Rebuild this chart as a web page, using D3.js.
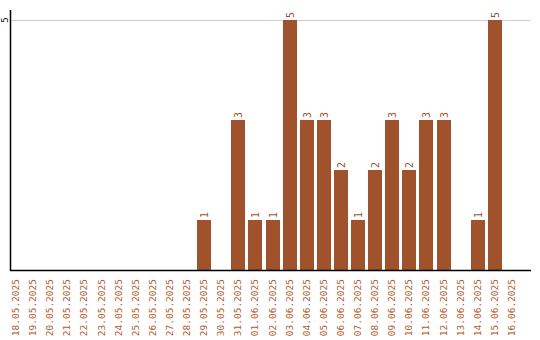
<!DOCTYPE html>
<html>
<head>
<meta charset="utf-8">
<script src="https://cdn.jsdelivr.net/npm/d3@7"></script>
<style>
  body { margin: 0; background: #fff; }
  text { font-family: "DejaVu Sans Mono", monospace; }
</style>
</head>
<body>
<div class="chart"></div>
<script>
const days = [
  '18.05.2025', '19.05.2025', '20.05.2025', '21.05.2025', '22.05.2025',
  '23.05.2025', '24.05.2025', '25.05.2025', '26.05.2025', '27.05.2025',
  '28.05.2025', '29.05.2025', '30.05.2025', '31.05.2025', '01.06.2025',
  '02.06.2025', '03.06.2025', '04.06.2025', '05.06.2025', '06.06.2025',
  '07.06.2025', '08.06.2025', '09.06.2025', '10.06.2025', '11.06.2025',
  '12.06.2025', '13.06.2025', '14.06.2025', '15.06.2025', '16.06.2025'
];
const counts = [
  0, 0, 0, 0, 0,
  0, 0, 0, 0, 0,
  0, 1, 0, 3, 1,
  1, 5, 3, 3, 2,
  1, 2, 3, 2, 3,
  3, 0, 1, 5, 0
];
const yTicks = [5];

function drawChart() {
  const w = 540;
  const h = 340;
  const margin = { top: 20, left: 10, bottom: 70 };
  const brown = '#a0522d';

  const svg = d3.select('.chart')
    .append('svg')
    .attr('width', w)
    .attr('height', h);

  const x = d3.scaleBand()
    .domain(days)
    .range([margin.left - 1, margin.left - 1 + days.length * 17])
    .paddingInner(3 / 17)
    .paddingOuter(0)
    .align(0);

  const y = d3.scaleLinear()
    .domain([0, 5])
    .range([h - margin.bottom, margin.top]);

  const rows = days.map((day, i) => ({ day, value: counts[i] })).filter(d => d.value > 0);

  // grid
  svg.append('g')
    .selectAll('line')
    .data(yTicks)
    .enter()
    .append('line')
    .attr('x1', margin.left)
    .attr('x2', 530)
    .attr('y1', d => y(d) + 0.5)
    .attr('y2', d => y(d) + 0.5)
    .attr('stroke', '#ccc');

  // bars
  svg.append('g')
    .selectAll('rect')
    .data(rows)
    .enter()
    .append('rect')
    .attr('x', d => Math.round(x(d.day)))
    .attr('y', d => y(d.value))
    .attr('width', 14)
    .attr('height', d => y(0) - y(d.value))
    .attr('fill', brown);

  // value labels
  svg.append('g')
    .selectAll('text')
    .data(rows)
    .enter()
    .append('text')
    .attr('transform', d => `translate(${Math.round(x(d.day)) + 7}, ${y(d.value) - 2}) rotate(-90)`)
    .attr('dy', '0.35em')
    .attr('font-size', 10)
    .attr('fill', brown)
    .text(d => d.value);

  // x labels
  svg.append('g')
    .selectAll('text')
    .data(days)
    .enter()
    .append('text')
    .attr('transform', d => `translate(${Math.round(x(d)) + 7}, ${y(0) + 9}) rotate(-90)`)
    .attr('dy', '0.35em')
    .attr('text-anchor', 'end')
    .attr('font-size', 9.5)
    .attr('fill', '#b0592a')
    .text(d => d);

  // y tick labels
  svg.append('g')
    .selectAll('text')
    .data(yTicks)
    .enter()
    .append('text')
    .attr('transform', d => `translate(5, ${y(d)}) rotate(-90)`)
    .attr('dy', '0.35em')
    .attr('text-anchor', 'middle')
    .attr('font-size', 9)
    .attr('fill', '#000')
    .text(d => d);

  // axis lines
  svg.append('line')
    .attr('x1', margin.left + 0.5)
    .attr('x2', margin.left + 0.5)
    .attr('y1', 10)
    .attr('y2', y(0) + 1)
    .attr('stroke', '#000')
    .attr('stroke-width', 1.5);

  svg.append('line')
    .attr('x1', margin.left)
    .attr('x2', 531)
    .attr('y1', y(0) + 0.5)
    .attr('y2', y(0) + 0.5)
    .attr('stroke', '#000')
    .attr('stroke-width', 1.5);
}

drawChart();
</script>
</body>
</html>
